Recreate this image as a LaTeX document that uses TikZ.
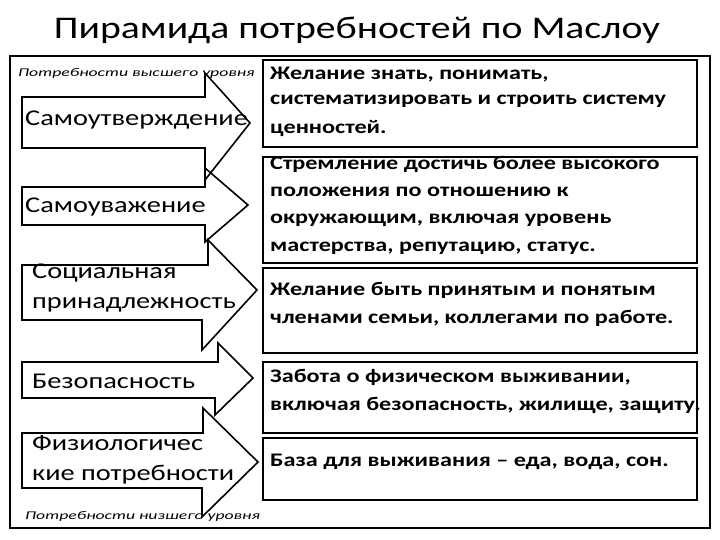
\documentclass[tikz,border=0pt]{standalone}
\usepackage{fontspec}
\setmainfont{Carlito}[FakeStretch=1.26]
\newfontfamily\smallfam{Carlito}[FakeStretch=1.5]
\begin{document}
\begin{tikzpicture}[x=1pt,y=-1pt,
  arr/.style={draw=black,line width=1.6pt,line join=miter},
  box/.style={draw=black,line width=1.6pt},
  lbl/.style={anchor=west,inner sep=0pt,font=\fontsize{22.5}{26}\selectfont},
  desc/.style={anchor=west,inner sep=0pt,font=\bfseries\fontsize{19.2}{23}\selectfont},
  small/.style={anchor=west,inner sep=0pt,font=\smallfam\itshape\fontsize{11.8}{14}\selectfont}]
\useasboundingbox (0,0) rectangle (720,540);
\node[inner sep=0pt,font=\fontsize{31.5}{36}\selectfont] (title) at (357,30) {Пирамида потребностей по Маслоу};
\draw[line width=2.2pt] (10,56) rectangle (710,528);
% right boxes
\draw[box] (263,60) rectangle (697,147);
\draw[box] (263,157) rectangle (697,263);
\draw[box] (263,268) rectangle (697,353);
\draw[box] (263,362) rectangle (697,433);
\draw[box] (263,438) rectangle (697,500);
% arrows
\draw[arr] (22,97) -- (205,97) -- (205,73) -- (250,123) -- (205,180) -- (205,148) -- (22,148) -- cycle;
\draw[arr] (22,187) -- (205,187) -- (205,168) -- (248,205) -- (205,242) -- (205,225) -- (22,225) -- cycle;
\draw[arr] (22,265) -- (208,265) -- (208,240) -- (257,290) -- (202,350) -- (202,320) -- (22,320) -- cycle;
\draw[arr] (22,362) -- (218,362) -- (218,343) -- (253,378) -- (215,415) -- (215,398) -- (22,398) -- cycle;
\draw[arr] (22,433) -- (203,433) -- (203,408) -- (258,462) -- (202,517) -- (202,488) -- (22,488) -- cycle;
% left labels
\node[small] (hi) at (18,73) {Потребности высшего уровня};
\node[lbl] (l1) at (25,120) {Самоутверждение};
\node[lbl] (l2) at (25,207) {Самоуважение};
\node[lbl] (l3a) at (32,273) {Социальная};
\node[lbl] (l3b) at (32,305) {принадлежность};
\node[lbl] (l4) at (32,381) {Безопасность};
\node[lbl] (l5a) at (32,443) {Физиологичес};
\node[lbl] (l5b) at (32,475) {кие потребности};
\node[small] (lo) at (25,516) {Потребности низшего уровня};
% descriptions
\node[desc] (d1a) at (270,75) {Желание знать, понимать,};
\node[desc] (d1b) at (270,101) {систематизировать и строить систему};
\node[desc] (d1c) at (270,128) {ценностей.};
\node[desc] (d2a) at (270,164) {Стремление достичь более высокого};
\node[desc] (d2b) at (270,192) {положения по отношению к};
\node[desc] (d2c) at (270,220) {окружающим, включая уровень};
\node[desc] (d2d) at (270,248) {мастерства, репутацию, статус.};
\node[desc] (d3a) at (270,290) {Желание быть принятым и понятым};
\node[desc] (d3b) at (270,318) {членами семьи, коллегами по работе.};
\node[desc] (d4a) at (270,377) {Забота о физическом выживании,};
\node[desc] (d4b) at (270,405) {включая безопасность, жилище, защиту.};
\node[desc] (d5) at (270,462) {База для выживания – еда, вода, сон.};
\end{tikzpicture}
\end{document}
